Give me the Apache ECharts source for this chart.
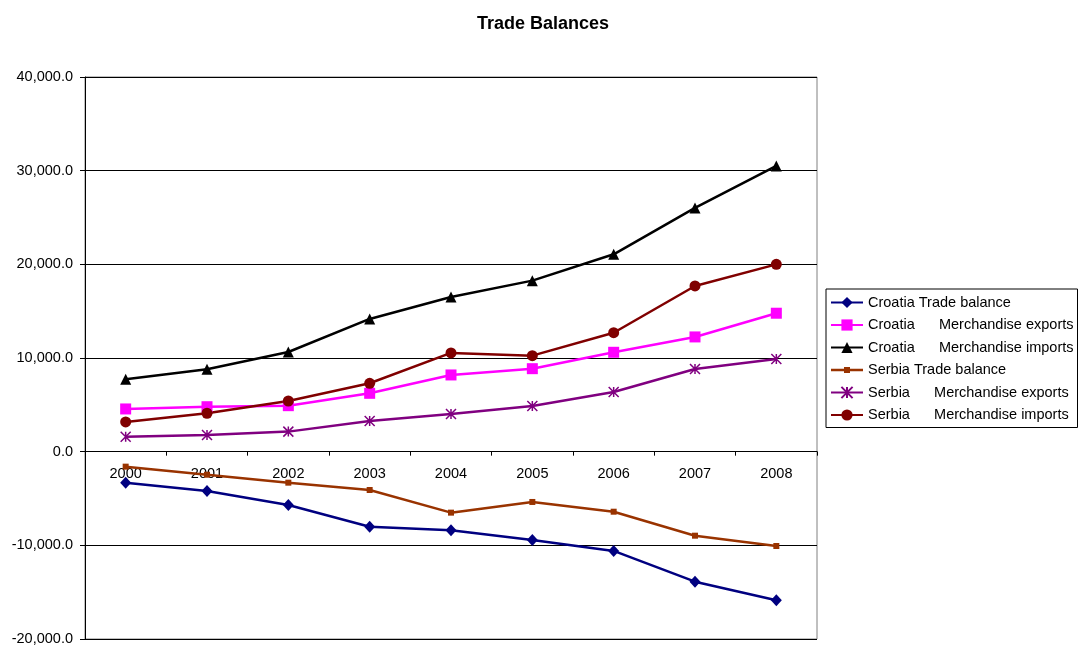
<!DOCTYPE html>
<html>
<head>
<meta charset="utf-8">
<style>
  html, body { margin: 0; padding: 0; background: #fff; }
  #chart { width: 1080px; height: 647px; }
</style>
<script src="https://cdn.jsdelivr.net/npm/echarts@6/dist/echarts.min.js"></script>
</head>
<body>
<div id="chart"></div>
<script>
const categories = ['2000', '2001', '2002', '2003', '2004', '2005', '2006', '2007', '2008'];
const croatiaBalance = [-3310, -4200, -5690, -8010, -8390, -9430, -10600, -13880, -15860];
const croatiaExports = [4560, 4800, 4910, 6230, 8190, 8860, 10610, 12250, 14780];
const croatiaImports = [7730, 8800, 10640, 14170, 16520, 18260, 21070, 26020, 30500];
const serbiaBalance = [-1600, -2460, -3310, -4090, -6510, -5370, -6410, -8970, -10070];
const serbiaExports = [1600, 1780, 2140, 3280, 4020, 4880, 6370, 8830, 9900];
const serbiaImports = [3170, 4100, 5410, 7300, 10540, 10250, 12700, 17690, 20000];
const seriesNames = [
  'Croatia Trade balance',
  'Croatia      Merchandise exports',
  'Croatia      Merchandise imports',
  'Serbia Trade balance',
  'Serbia      Merchandise exports',
  'Serbia      Merchandise imports'
];

const FONT = "'Liberation Sans', Arial, sans-serif";
const chart = echarts.init(document.getElementById('chart'), null, { renderer: 'canvas' });

function fmt(v) {
  const neg = v < 0;
  const s = Math.abs(v).toFixed(1);
  const [ip, dp] = s.split('.');
  const withCommas = ip.replace(/\B(?=(\d{3})+(?!\d))/g, ',');
  return (neg ? '-' : '') + withCommas + '.' + dp;
}

function mk(name, data, color, symbol, size, extra) {
  return Object.assign({
    name: name,
    type: 'line',
    data: data,
    showSymbol: true,
    symbol: symbol,
    symbolSize: size,
    lineStyle: { color: color, width: 2.5 },
    itemStyle: { color: color, borderColor: color, borderWidth: 0 },
    emphasis: { disabled: true },
    z: 3
  }, extra || {});
}

const legendData = seriesNames.map(function (n, i) {
  if (i === 3) {
    return { name: n, icon: 'path://M0,5.75L32,5.75L32,8.25L0,8.25ZM13,4L19,4L19,10L13,10Z' };
  }
  return { name: n };
});

const option = {
  animation: false,
  backgroundColor: '#fff',
  title: {
    text: 'Trade Balances',
    left: 472,
    top: 10,
    textStyle: { fontFamily: FONT, fontSize: 18, fontWeight: 'bold', color: '#000' }
  },
  legend: {
    orient: 'vertical',
    left: 826,
    top: 289,
    padding: [6, 4, 5, 4],
    itemWidth: 32,
    itemHeight: 14,
    itemGap: 7.5,
    borderColor: '#000',
    borderWidth: 1,
    backgroundColor: '#fff',
    selectedMode: false,
    textStyle: { fontFamily: FONT, fontSize: 14.5, color: '#000' },
    data: legendData
  },
  grid: {
    left: 85, right: 263, top: 77, bottom: 8,
    show: true, borderColor: '#808080', borderWidth: 1, backgroundColor: '#fff',
    containLabel: false,
    outerBoundsMode: 'none'
  },
  xAxis: {
    type: 'category',
    data: categories,
    boundaryGap: true,
    axisLine: { show: true, onZero: true, lineStyle: { color: '#000', width: 1 } },
    axisTick: { show: true, inside: false, length: 4, alignWithLabel: false, lineStyle: { color: '#000' } },
    axisLabel: { fontFamily: FONT, fontSize: 14.5, color: '#000', margin: -173 },
    splitLine: { show: false }
  },
  yAxis: {
    type: 'value',
    min: -20000,
    max: 40000,
    interval: 10000,
    axisLine: { show: true, lineStyle: { color: '#000', width: 1 } },
    axisTick: { show: true, inside: false, length: 5, lineStyle: { color: '#000' } },
    axisLabel: { fontFamily: FONT, fontSize: 14.5, color: '#000', margin: 12, formatter: fmt },
    splitLine: { show: true, lineStyle: { color: '#000', width: 1 } }
  },
  series: [
    mk(seriesNames[0], croatiaBalance, '#000080', 'diamond', [11, 12]),
    mk(seriesNames[1], croatiaExports, '#FF00FF', 'rect', 11),
    mk(seriesNames[2], croatiaImports, '#000000', 'triangle', 11),
    mk(seriesNames[3], serbiaBalance, '#993300', 'rect', 6),
    mk(seriesNames[4], serbiaExports, '#800080', 'path://M0,0L10,10M10,0L0,10M5,0L5,10', 10, {
      itemStyle: { color: 'rgba(0,0,0,0)', borderColor: '#800080', borderWidth: 1.5 }
    }),
    mk(seriesNames[5], serbiaImports, '#800000', 'circle', 11)
  ]
};
chart.setOption(option);
</script>
</body>
</html>
